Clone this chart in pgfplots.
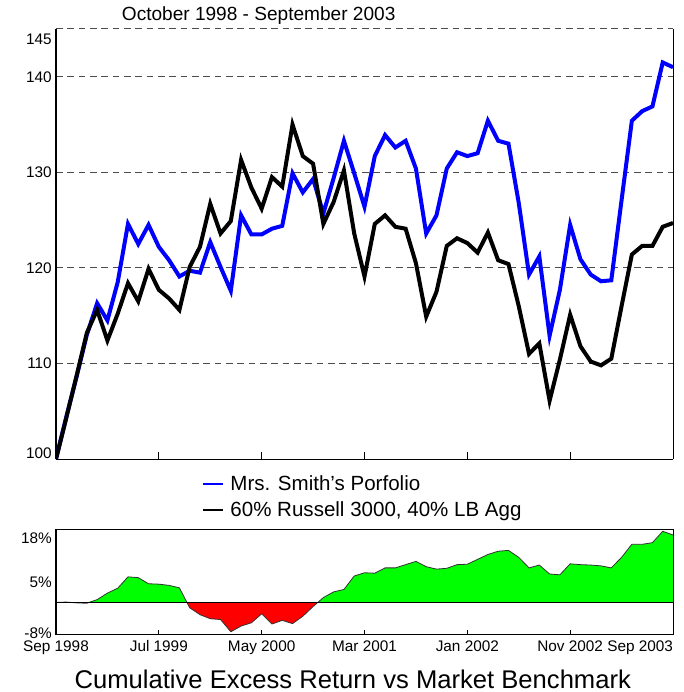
\documentclass[border=0pt]{standalone}
\usepackage{pgfplots}
\usepackage{pgfplotstable}
\pgfplotsset{compat=1.18}
\usepackage{fontspec}
\setmainfont{Liberation Sans}

% month index 0 = Sep 1998
\pgfplotstableread{
m port bench
0 100.0 100.0
1 104.4 104.3
2 108.6 108.7
3 113.0 113.2
4 116.3 115.6
5 114.5 112.4
6 118.5 115.2
7 124.6 118.4
8 122.5 116.5
9 124.5 119.9
10 122.2 117.7
11 120.8 116.8
12 119.1 115.6
13 119.7 120.1
14 119.5 122.2
15 122.7 126.7
16 120.1 123.6
17 117.6 124.9
18 125.5 131.3
19 123.5 128.4
20 123.5 126.2
21 124.1 129.5
22 124.4 128.5
23 129.9 135.0
24 127.9 131.7
25 129.3 130.9
26 125.7 124.6
27 129.4 126.9
28 133.3 130.2
29 129.9 123.6
30 126.4 119.1
31 131.7 124.6
32 133.9 125.5
33 132.6 124.3
34 133.3 124.1
35 130.4 120.5
36 123.6 114.9
37 125.5 117.5
38 130.4 122.3
39 132.1 123.1
40 131.7 122.6
41 132.0 121.6
42 135.4 123.7
43 133.3 120.8
44 133.0 120.4
45 126.8 116.0
46 119.3 111.0
47 121.2 112.1
48 112.9 106.1
49 117.7 110.4
50 124.5 115.1
51 120.9 111.8
52 119.3 110.2
53 118.6 109.8
54 118.7 110.5
55 127.1 116.0
56 135.4 121.4
57 136.4 122.3
58 136.9 122.3
59 141.5 124.3
60 141.0 124.7
}\perfdata

\pgfplotstableread{
m exc
0 0
1 0.1
2 -0.1
3 -0.2
4 0.7
5 2.3
6 3.5
7 6.3
8 6.1
9 4.6
10 4.5
11 4.2
12 3.6
13 -1.3
14 -3.0
15 -4.0
16 -4.2
17 -7.2
18 -5.8
19 -5.0
20 -2.8
21 -5.3
22 -4.4
23 -5.2
24 -3.4
25 -1.0
26 1.2
27 2.6
28 3.2
29 6.5
30 7.3
31 7.2
32 8.5
33 8.5
34 9.3
35 10.1
36 8.8
37 8.2
38 8.4
39 9.3
40 9.4
41 10.6
42 11.8
43 12.6
44 12.8
45 11.1
46 8.5
47 9.2
48 7.0
49 6.8
50 9.5
51 9.3
52 9.2
53 9.0
54 8.5
55 11.1
56 14.3
57 14.3
58 14.7
59 17.5
60 16.6
}\excdata

% positive part, zero crossings at 12.73 and 25.45
\pgfplotstableread{
m exc
0 0
1 0.1
2 0
3 0
4 0.7
5 2.3
6 3.5
7 6.3
8 6.1
9 4.6
10 4.5
11 4.2
12 3.6
12.73 0
25.45 0
26 1.2
27 2.6
28 3.2
29 6.5
30 7.3
31 7.2
32 8.5
33 8.5
34 9.3
35 10.1
36 8.8
37 8.2
38 8.4
39 9.3
40 9.4
41 10.6
42 11.8
43 12.6
44 12.8
45 11.1
46 8.5
47 9.2
48 7.0
49 6.8
50 9.5
51 9.3
52 9.2
53 9.0
54 8.5
55 11.1
56 14.3
57 14.3
58 14.7
59 17.5
60 16.6
}\posdata

\pgfplotstableread{
m exc
12.73 0
13 -1.3
14 -3.0
15 -4.0
16 -4.2
17 -7.2
18 -5.8
19 -5.0
20 -2.8
21 -5.3
22 -4.4
23 -5.2
24 -3.4
25 -1.0
25.45 0
}\negdata

\begin{document}
\begin{tikzpicture}
\useasboundingbox (-42pt,-174.75pt) rectangle (470.25pt,344.25pt);

\begin{axis}[
    name=top,
    at={(0pt,0pt)}, anchor=south west,
    scale only axis,
    width=462.75pt, height=322.5pt,
    xmin=0, xmax=60, ymin=100, ymax=145,
    axis x line*=bottom, axis y line*=box,
    every non boxed x axis/.append style={x axis line style={-}},
    axis line style={black, line width=0.75pt, -},
    xtick={10,20,30,40,50}, xticklabels={},
    x tick style={black, line width=0.75pt},
    tick align=inside, major tick length=5pt,
    ytick={100,110,120,130,140,145},
    yticklabels={\raisebox{4.5pt}[\height][\depth]{100},110,120,130,140,\raisebox{-7.5pt}[\height][\depth]{145}},
    y tick style={draw=none},
    yticklabel style={inner sep=0pt, xshift=-3pt},
    tick label style={font=\fontsize{11.5}{13}\selectfont},
    ymajorgrids,
    grid style={black!70, line width=0.75pt, dash pattern=on 5pt off 3.5pt},
    legend cell align=left,
    legend style={at={(0.2361,-0.0381)}, anchor=north west, draw=none, fill=none,
        inner sep=0pt, row sep=4.5pt, column sep=5pt,
        font=\fontsize{15.4}{18}\selectfont,
        nodes={inner sep=0pt, text height=11.5pt, text depth=3.5pt}},
]
\addplot[blue, line width=3pt, forget plot] table[x=m, y=port] {\perfdata};
\addplot[black, line width=3pt, forget plot] table[x=m, y=bench] {\perfdata};
\addlegendimage{legend image code/.code={\draw[draw=blue, line width=1.4pt] (0pt,1.5pt) -- (15pt,1.5pt);}}
\addlegendentry{Mrs. Smith's Porfolio}
\addlegendimage{legend image code/.code={\draw[draw=black, line width=1.4pt] (0pt,1.5pt) -- (15pt,1.5pt);}}
\addlegendentry{60\% Russell 3000, 40\% LB Agg}
\end{axis}

\node[anchor=base, font=\fontsize{14.3}{17}\selectfont] at (152pt,328.7pt) {October 1998 - September 2003};

\begin{axis}[
    name=bot,
    at={(0pt,-52.7pt)}, anchor=north west,
    scale only axis,
    width=462.75pt, height=79.3pt,
    xmin=0, xmax=60, ymin=-8, ymax=18,
    axis line style={black, line width=0.75pt},
    xtick={0,10,20,30,40,50,60},
    xticklabels={Sep 1998, Jul 1999, May 2000, Mar 2001, Jan 2002, Nov 2002, \makebox[0pt][r]{Sep 2003}},
    xtick pos=left,
    x tick style={black, line width=0.75pt},
    tick align=inside, major tick length=4pt,
    xticklabel style={inner sep=0pt, yshift=-4pt},
    ytick={-8,5,18},
    yticklabels={\raisebox{1.5pt}[\height][\depth]{-8\%},5\%,\raisebox{-7pt}[\height][\depth]{18\%}},
    y tick style={draw=none},
    yticklabel style={inner sep=0pt, xshift=-3pt},
    tick label style={font=\fontsize{11.5}{13}\selectfont},
]
\addplot[fill=green, draw=none] table[x=m, y=exc] {\posdata} \closedcycle;
\addplot[fill=red, draw=none] table[x=m, y=exc] {\negdata} \closedcycle;
\addplot[black!80, line width=0.6pt] table[x=m, y=exc] {\excdata};
\addplot[black, line width=0.75pt] coordinates {(0,0) (60,0)};
\end{axis}

\node[anchor=base, font=\fontsize{19.2}{23}\selectfont] at (222.6pt,-171.75pt) {Cumulative Excess Return vs Market Benchmark};
\end{tikzpicture}
\end{document}
